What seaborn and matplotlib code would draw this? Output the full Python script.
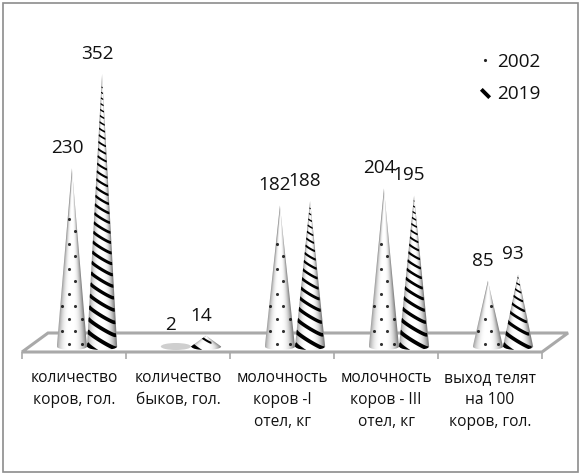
import numpy as np
import pandas as pd
import matplotlib
matplotlib.use("Agg")
import matplotlib.pyplot as plt
import seaborn as sns
from matplotlib.lines import Line2D
from matplotlib.patches import Polygon, Rectangle, Ellipse
from matplotlib.path import Path

categories = ["количество\nкоров, гол.", "количество\nбыков, гол.",
              "молочность\nкоров -I\nотел, кг", "молочность\nкоров - III\nотел, кг",
              "выход телят\nна 100\nкоров, гол."]
years = ["2002", "2019"]
values_2002 = [230, 2, 182, 204, 85]
values_2019 = [352, 14, 188, 195, 93]

sns.set_theme(style="white")
plt.rcParams["font.family"] = ["Open Sans", "DejaVu Sans"]

W, H = 580, 476
fig = plt.figure(figsize=(W / 100, H / 100), dpi=100, facecolor="white")


def rect(x0, ytop, x1, ybot):
    return [x0 / W, 1 - ybot / H, (x1 - x0) / W, (ybot - ytop) / H]


fig.add_artist(Rectangle((3 / W, 1 - 472 / H), 575 / W, 469 / H, transform=fig.transFigure,
                         fill=False, ec="#8c8c8c", lw=1.2))

# floor and category axis
GREY = "#a9a9a9"
floor = fig.add_axes(rect(22, 333, 542, 352))
floor.patch.set_visible(False)
floor.add_patch(Polygon([(0, 0), (1, 0), (1 + 26 / 520, 1), (26 / 520, 1)], closed=True,
                        transform=floor.transAxes, fc="white", ec=GREY, lw=2.2, clip_on=False))
floor.set_xlim(-0.5, 4.5)
floor.set_ylim(0, 1)
for s in floor.spines.values():
    s.set_visible(False)
floor.set_yticks([])
floor.set_xticks(np.arange(-0.5, 5), [""] * 6)
floor.tick_params(axis="x", which="major", length=5, width=1.2, color=GREY, bottom=True)
floor.set_xticks(np.arange(5), categories, minor=True)
floor.tick_params(axis="x", which="minor", length=0, pad=13, labelsize=11.2, labelcolor="#111111")
for t in floor.get_xticklabels(minor=True):
    t.set_linespacing(1.5)
    t.set_verticalalignment("top")

# cones
ax = fig.add_axes(rect(35, 40, 555, 355))
ax.patch.set_visible(False)
df = pd.DataFrame({
    "category": categories * 2,
    "year": [years[0]] * 5 + [years[1]] * 5,
    "value": values_2002 + values_2019,
})
sns.barplot(data=df, x="category", y="value", hue="year", hue_order=years, width=0.58,
            palette=["white", "white"], legend=False, ax=ax, errorbar=None,
            saturation=1, linewidth=0)

SY = 0.775
SX = 104.0
ax.set_xlim(-0.5, 4.5)
ax.set_ylim(-8.5 / SY, 306.5 / SY)
ax.axis("off")

for container, dotted in zip(ax.containers, [True, False]):
    for bar in container:
        x0, w, h = bar.get_x(), bar.get_width(), bar.get_height()
        cx = x0 + w / 2
        arc = 3.5 / SY
        flat = h < 5
        th = np.linspace(np.pi, 2 * np.pi, 30)
        verts = [(cx, h)] + list(zip(cx + w / 2 * np.cos(th), arc * np.sin(th))) + [(cx, h)]
        codes = [Path.MOVETO] + [Path.LINETO] * (len(verts) - 2) + [Path.CLOSEPOLY]
        clip = Path(verts, codes)
        bar.set_zorder(2)
        base = Ellipse((cx, 0), w, 2 * arc, fc="#cfcfcf" if flat else "white", ec="none", zorder=1.9)
        ax.add_patch(base)
        if flat:
            bar.set_facecolor("#cfcfcf")
        else:
            bar.set_clip_path(clip, ax.transData)
            base.set_clip_path(clip, ax.transData)
        R = w * SX / 2
        Hpx = h * SY
        if flat:
            bar.set_visible(False)
        if dotted and not flat:
            rows = np.arange(3, Hpx, 12.5)
            for k, yy in enumerate(rows):
                r = R * (1 - yy / Hpx)
                if r < 2.5:
                    break
                offs = np.arange(-3, 4) * 13.0 + (3.5 if k % 2 else -3.0)
                offs = offs[np.abs(offs) < r - 1]
                dots = ax.scatter(cx + offs / SX, np.full(len(offs), yy / SY), s=5,
                                  color="#333333", linewidths=0, zorder=3)
                dots.set_clip_path(clip, ax.transData)
        if not dotted:
            y = -6.0
            while y < Hpx:
                r = R * (1 - max(y, 0) / Hpx)
                if r < 0.5:
                    break
                u = np.linspace(-1, 1, 25)
                xs = cx + r * u / SX
                ys = (y - 0.6 * r * u - 0.15 * r * np.sqrt(1 - u ** 2)) / SY
                ln, = ax.plot(xs, ys, color="black", lw=(1.0 + 3.0 * r / R) * 0.72,
                              solid_capstyle="butt", zorder=3)
                ln.set_clip_path(clip, ax.transData)
                y += 5.0 + 8.0 * r / R
        # soft shading that follows the taper of the cone
        if not flat:
            gx = np.linspace(-1, 1, 90)
            gy = np.linspace(h, -arc, max(int(Hpx) + 8, 12))
            shade = np.zeros((len(gy), len(gx), 4))
            for i, yy in enumerate(gy):
                rr = np.clip(1 - yy / h, 0.02, 1)
                uu = np.abs(gx + 0.1 * rr) / rr
                shade[i, :, 3] = np.clip(0.5 * np.clip(uu, 0, 1) ** 3, 0, 0.6)
            img = ax.imshow(shade, extent=(x0, x0 + w, -arc, h), aspect="auto", zorder=4,
                            interpolation="bilinear")
            img.set_clip_path(clip, ax.transData)
        ax.annotate(f"{int(h)}", (cx, h), xytext=(-5 * 0.72, 11 * 0.72), textcoords="offset points",
                    ha="center", va="bottom", fontsize=13.7, color="#111111", annotation_clip=False,
                    zorder=5)

ax.set_xlim(-0.5, 4.5)
ax.set_ylim(-8.5 / SY, 306.5 / SY)

# legend
stripe = Path([(-1, 1), (1, -1)])
handles = [
    Line2D([], [], ls="none", marker=".", ms=2.5, color="#222222", label=years[0]),
    Line2D([], [], ls="none", marker=stripe, ms=6, mew=2.8, color="black", fillstyle="none", label=years[1]),
]
fig.legend(handles=handles, loc="upper left", bbox_to_anchor=(464 / W, 1 - 43 / H), frameon=False,
           fontsize=13.7, labelspacing=0.78, handlelength=1.25, handletextpad=0.0, borderpad=0,
           labelcolor="#111111")

fig.savefig("out.png", dpi=100, facecolor="white")
